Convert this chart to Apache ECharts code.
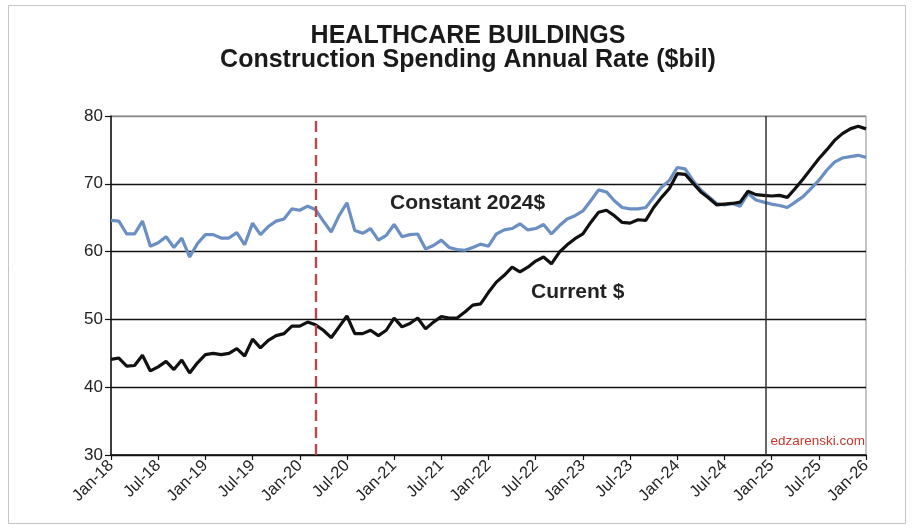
<!DOCTYPE html>
<html>
<head>
<meta charset="utf-8">
<title>Healthcare Buildings - Construction Spending</title>
<script src="https://cdn.jsdelivr.net/npm/echarts@6/dist/echarts.min.js"></script>
<style>
  html, body { margin: 0; padding: 0; background: #fff; }
  #chart { width: 914px; height: 531px; }
</style>
</head>
<body>
<div id="chart"></div>
<script>
// Monthly series, Jan-18 through Jan-26 (97 months), $ billions annual rate
const currentDollars = [
  44.1, 44.3, 43.1, 43.2, 44.7, 42.4, 43.0, 43.8, 42.6, 44.0, 42.1, 43.6,
  44.8, 45.0, 44.8, 45.0, 45.7, 44.6, 47.1, 45.8, 46.9, 47.6, 47.9, 49.0,
  49.0, 49.6, 49.2, 48.4, 47.3, 48.9, 50.5, 47.9, 47.9, 48.4, 47.6, 48.4,
  50.2, 48.9, 49.4, 50.2, 48.6, 49.6, 50.4, 50.2, 50.2, 51.1, 52.1, 52.3,
  54.0, 55.5, 56.5, 57.7, 57.0, 57.7, 58.6, 59.2, 58.2, 59.9, 61.0, 61.9,
  62.6, 64.3, 65.8, 66.1, 65.3, 64.3, 64.2, 64.7, 64.6, 66.5, 68.0, 69.3,
  71.5, 71.4, 70.1, 68.8, 67.9, 66.9, 67.0, 67.1, 67.3, 68.9, 68.4, 68.3,
  68.2, 68.3, 68.0, 69.3, 70.7, 72.2, 73.7, 75.0, 76.4, 77.4, 78.1, 78.5,
  78.1
];

const constant2024 = [
  64.6, 64.5, 62.6, 62.6, 64.5, 60.8, 61.3, 62.2, 60.6, 62.0, 59.2, 61.2,
  62.5, 62.5, 62.0, 62.0, 62.8, 61.0, 64.2, 62.5, 63.7, 64.5, 64.8, 66.3,
  66.1, 66.7, 66.2, 64.5, 62.9, 65.3, 67.2, 63.1, 62.7, 63.4, 61.7, 62.4,
  64.0, 62.2, 62.5, 62.6, 60.4, 60.9, 61.7, 60.6, 60.3, 60.2, 60.6, 61.1,
  60.8, 62.6, 63.2, 63.4, 64.1, 63.2, 63.4, 64.0, 62.6, 63.8, 64.8, 65.3,
  66.0, 67.5, 69.1, 68.8, 67.5, 66.5, 66.3, 66.3, 66.5, 68.0, 69.5, 70.5,
  72.4, 72.2, 70.5, 69.1, 68.1, 67.1, 66.9, 67.1, 66.7, 68.6, 67.6, 67.3,
  67.0, 66.8, 66.5, 67.3, 68.1, 69.3, 70.5, 72.0, 73.2, 73.8, 74.0, 74.2,
  73.9
];

// Axis labels every six months
const tickLabels = [
  'Jan-18', 'Jul-18', 'Jan-19', 'Jul-19', 'Jan-20', 'Jul-20', 'Jan-21', 'Jul-21',
  'Jan-22', 'Jul-22', 'Jan-23', 'Jul-23', 'Jan-24', 'Jul-24', 'Jan-25', 'Jul-25', 'Jan-26'
];

// Reference lines, in months since Jan-18
const pandemicMonth = 26;      // Mar-20
const forecastStartMonth = 83.3;

const toPairs = arr => arr.map((v, i) => [i, v]);

const FONT = '"Liberation Sans", Arial, sans-serif';

const chart = echarts.init(document.getElementById('chart'), null, { renderer: 'canvas' });

chart.setOption({
  animation: false,
  backgroundColor: '#fff',
  title: [
    {
      text: 'HEALTHCARE BUILDINGS',
      left: 463, top: 19, textAlign: 'center',
      textStyle: { fontFamily: FONT, fontSize: 25, fontWeight: 'bold', color: '#1a1a1a' }
    },
    {
      text: 'Construction Spending Annual Rate ($bil)',
      left: 463, top: 43, textAlign: 'center',
      textStyle: { fontFamily: FONT, fontSize: 25, fontWeight: 'bold', color: '#1a1a1a' }
    }
  ],
  grid: {
    left: 111, right: 48, top: 116, bottom: 76,
    show: true, borderColor: '#8a8a8a', borderWidth: 1, backgroundColor: 'transparent'
  },
  xAxis: {
    type: 'value',
    min: 0, max: 96, interval: 6,
    axisLine: { lineStyle: { color: '#111', width: 1.5 } },
    axisTick: { show: true, length: 5, lineStyle: { color: '#111', width: 1.2 } },
    splitLine: { show: false },
    axisLabel: {
      rotate: 45, margin: 8,
      fontFamily: FONT, fontSize: 16.5, color: '#222',
      formatter: v => tickLabels[Math.round(v / 6)] || ''
    }
  },
  yAxis: {
    type: 'value',
    min: 30, max: 80, interval: 10,
    axisLine: { show: true, lineStyle: { color: '#111', width: 1.5 } },
    axisTick: { show: true, length: 6, lineStyle: { color: '#111', width: 1.2 } },
    splitLine: {
      show: true,
      lineStyle: { color: ['#111', '#111', '#111', '#111', '#111', '#8a8a8a'], width: 1.3 }
    },
    axisLabel: { margin: 8, fontFamily: FONT, fontSize: 17, color: '#222' }
  },
  series: [
    {
      name: 'Constant 2024$',
      type: 'line',
      data: toPairs(constant2024),
      symbol: 'none',
      lineStyle: { color: '#6b8fc3', width: 3.2 },
      markLine: {
        silent: true, symbol: 'none', label: { show: false },
        data: [{ xAxis: pandemicMonth }],
        lineStyle: { color: '#b54a4a', width: 2.4, type: [11, 6] }
      },
      z: 2
    },
    {
      name: 'Current $',
      type: 'line',
      data: toPairs(currentDollars),
      symbol: 'none',
      lineStyle: { color: '#111', width: 3.2 },
      markLine: {
        silent: true, symbol: 'none', label: { show: false },
        data: [{ xAxis: forecastStartMonth }],
        lineStyle: { color: '#333', width: 1.5, type: 'solid' }
      },
      z: 3
    }
  ],
  graphic: [
    {
      type: 'rect', silent: true, z: -1,
      shape: { x: 8.5, y: 5.5, width: 897, height: 518 },
      style: { fill: 'none', stroke: '#c4c4c4', lineWidth: 1 }
    },
    {
      type: 'text', x: 390, y: 203,
      style: { text: 'Constant 2024$', font: 'bold 21px ' + FONT, fill: '#222', verticalAlign: 'middle' }
    },
    {
      type: 'text', x: 531, y: 292,
      style: { text: 'Current $', font: 'bold 21px ' + FONT, fill: '#222', verticalAlign: 'middle' }
    },
    {
      type: 'text', x: 865, y: 441,
      style: { text: 'edzarenski.com', font: '13.5px ' + FONT, fill: '#c0392b', align: 'right', verticalAlign: 'middle' }
    }
  ]
});
</script>
</body>
</html>
